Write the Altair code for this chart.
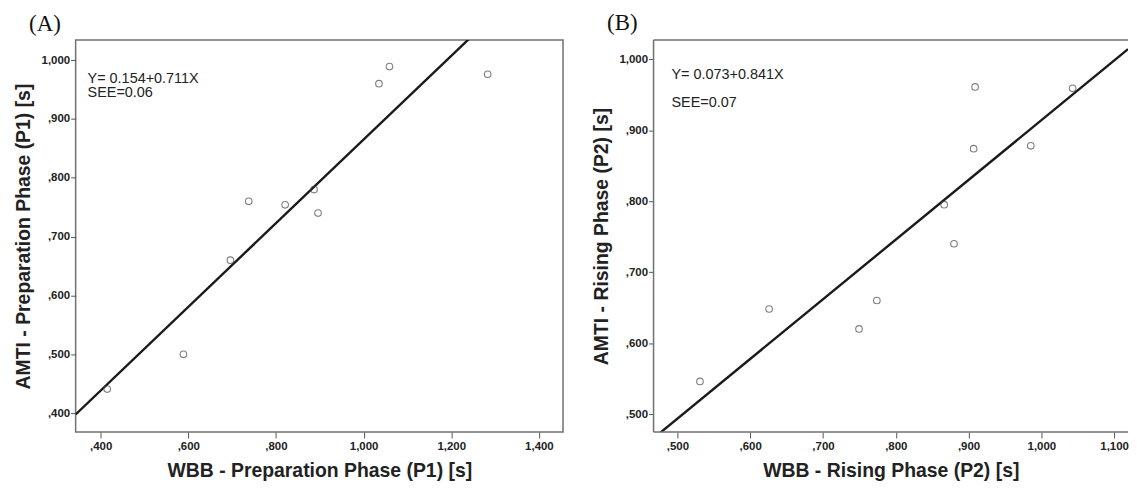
import altair as alt
import pandas as pd

# ---------------- data ----------------
# Panel A: Preparation Phase (P1)
a_wbb = [0.415, 0.589, 0.696, 0.738, 0.821, 0.887, 0.896, 1.035, 1.059, 1.283]
a_amti = [0.441, 0.500, 0.660, 0.760, 0.754, 0.780, 0.740, 0.960, 0.989, 0.976]
a_coef = [0.154, 0.711]          # intercept, slope
a_text = ["Y= 0.154+0.711X", "SEE=0.06"]

# Panel B: Rising Phase (P2)
b_wbb = [0.531, 0.626, 0.7495, 0.774, 0.8665, 0.880, 0.907, 0.909, 0.9855, 1.043]
b_amti = [0.546, 0.648, 0.620, 0.660, 0.795, 0.740, 0.874, 0.961, 0.878, 0.959]
b_coef = [0.073, 0.841]
b_text = ["Y= 0.073+0.841X", "SEE=0.07"]

# axis domains and ticks
a_xdom = [0.343, 1.455]
a_ydom = [0.368, 1.034]
a_xticks = [0.4, 0.6, 0.8, 1.0, 1.2, 1.4]
a_yticks = [0.4, 0.5, 0.6, 0.7, 0.8, 0.9, 1.0]

b_xdom = [0.4672, 1.1191]
b_ydom = [0.4747, 1.027]
b_xticks = [0.5, 0.6, 0.7, 0.8, 0.9, 1.0, 1.1]
b_yticks = [0.5, 0.6, 0.7, 0.8, 0.9, 1.0]

LABEL_EXPR = "replace(replace(format(datum.value, '.3f'), '0.', ','), '.', ',')"
SANS = "Liberation Sans"
FRAME = "#707070"
H = 394


def panel(label, xs, ys, coef, texts, xdom, ydom, xticks, yticks,
          xtitle, ytitle, width, text_dx, text_dy, text_gap, open_right):
    pts = pd.DataFrame({"x": xs, "y": ys})
    fit = pd.DataFrame({"x": xdom, "y": [coef[0] + coef[1] * v for v in xdom]})

    xscale = alt.Scale(domain=xdom, nice=False, zero=False)
    yscale = alt.Scale(domain=ydom, nice=False, zero=False)
    xaxis = alt.Axis(values=xticks, labelExpr=LABEL_EXPR, title=xtitle,
                     tickSize=6, labelPadding=3, titlePadding=9.5)
    yaxis = alt.Axis(values=yticks, labelExpr=LABEL_EXPR, title=ytitle,
                     tickSize=5, labelPadding=1, titlePadding=8)

    line = alt.Chart(fit).mark_line(color="#1a1a1a", strokeWidth=2.4, clip=True).encode(
        x=alt.X("x:Q", scale=xscale, axis=xaxis),
        y=alt.Y("y:Q", scale=yscale, axis=yaxis),
    )
    points = alt.Chart(pts).mark_point(
        shape="circle", filled=False, size=44, stroke="#4a4a4a", strokeWidth=1.1
    ).encode(
        x=alt.X("x:Q", scale=xscale),
        y=alt.Y("y:Q", scale=yscale),
    )
    layers = [line, points]
    for i, t in enumerate(texts):
        layers.append(
            alt.Chart(pd.DataFrame({"t": [t]})).mark_text(
                align="left", baseline="middle", font=SANS, fontSize=14.5,
                color="#222222"
            ).encode(text="t:N", x=alt.value(text_dx),
                     y=alt.value(text_dy + i * text_gap))
        )
    props = dict(
        width=width, height=H,
        title=alt.TitleParams(label, anchor="start", frame="bounds", dx=16,
                              dy=27, baseline="alphabetic", offset=13,
                              font="Liberation Serif", fontSize=23,
                              fontWeight="normal", color="#111111"),
    )
    if open_right:
        # frame drawn on three sides only: the reference cuts the right side off
        one = pd.DataFrame({"k": [0]})
        rule = alt.Chart(one).mark_rule(color=FRAME, strokeWidth=1.5)
        layers += [
            rule.encode(x=alt.value(0), x2=alt.value(width), y=alt.value(0)),
            rule.encode(x=alt.value(0), x2=alt.value(width), y=alt.value(H)),
            rule.encode(x=alt.value(0), y=alt.value(0), y2=alt.value(H)),
        ]
        props["view"] = alt.ViewBackground(stroke="transparent")
    return alt.layer(*layers).properties(**props)


chart_a = panel("(A)", a_wbb, a_amti, a_coef, a_text, a_xdom, a_ydom,
                a_xticks, a_yticks, "WBB - Preparation Phase (P1) [s]",
                "AMTI - Preparation Phase (P1) [s]", 490, 12, 39, 14, False)
chart_b = panel("(B)", b_wbb, b_amti, b_coef, b_text, b_xdom, b_ydom,
                b_xticks, b_yticks, "WBB - Rising Phase (P2) [s]",
                "AMTI - Rising Phase (P2) [s]", 477, 18, 35, 28, True)

chart = alt.hconcat(chart_a, chart_b, spacing=26).properties(
    padding={"left": 4, "top": 2, "right": -1, "bottom": -2.5},
    background="white",
).configure_view(
    stroke=FRAME, strokeWidth=1.5
).configure_axis(
    domain=False, grid=False, tickColor="#555555", tickWidth=1,
    labelFont=SANS, labelFontSize=11.5, labelFontWeight="bold",
    labelColor="#222222",
    titleFont=SANS, titleFontSize=19.5, titleFontWeight="bold",
    titleColor="#222222",
)

chart.save("out.html", embed_options={"renderer": "svg", "actions": False})
